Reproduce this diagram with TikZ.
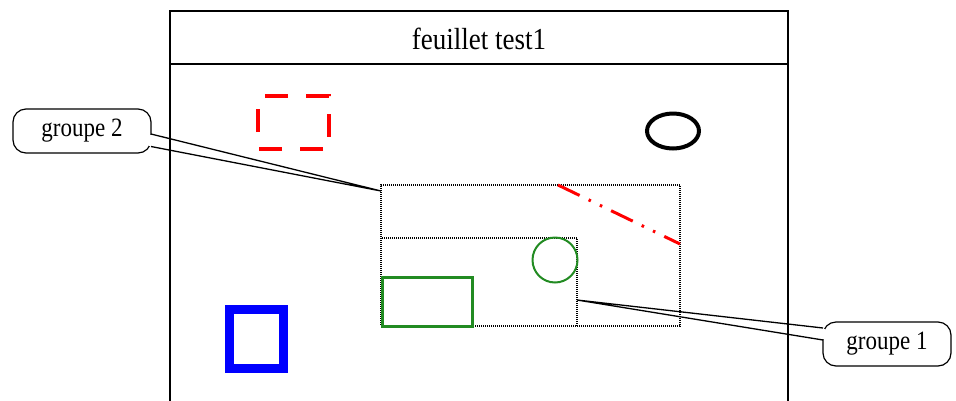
\documentclass[tikz,border=0pt]{standalone}
\usepackage{fontspec}
\setmainfont{Liberation Serif}
\definecolor{grn}{RGB}{34,139,34}
\definecolor{rd}{RGB}{255,0,0}
\definecolor{bl}{RGB}{0,0,255}
\begin{document}
\begin{tikzpicture}[x=1pt,y=-1pt,
  frame/.style={draw=black,line width=2.2pt},
  grpbox/.style={draw=black,line width=1.1pt,dash pattern=on 1pt off 1pt,inner sep=0pt,minimum width=#1},
  callbox/.style={draw=black,line width=1.2pt,rounded corners=13pt,fill=white,inner sep=0pt},
  wedge/.style={draw=black,line width=1.3pt},
  lbl/.style={font=\fontsize{23}{23}\selectfont}
]
\useasboundingbox (0,0) rectangle (956,400);
\clip (0,0) rectangle (956,400);
\fill[white] (0,0) rectangle (956,400);

% group boxes
\node[grpbox=299pt,minimum height=141pt] (grp2) at (530.5,255.5) {};
\node[grpbox=196pt,minimum height=88pt] (grp1) at (479,282) {};
\coordinate (tip2) at (381,191);
\coordinate (tip1) at (577,300);

% callout groupe 2
\node[callbox,minimum width=138pt,minimum height=44pt] (g2) at (82,131) {};
\node[lbl] (g2t) at (g2.center) {\scalebox{1}[1.15]{groupe 2}};
\coordinate (g2a) at (151,134);
\coordinate (g2b) at (151,146.5);
\fill[white] (149,135) rectangle (153,145.5);
\draw[wedge] (g2a) -- (tip2) -- (g2b);

% callout groupe 1
\node[callbox,minimum width=128pt,minimum height=44pt] (g1) at (887,344) {};
\node[lbl] (g1t) at (g1.center) {\scalebox{1}[1.15]{groupe 1}};
\coordinate (g1a) at (823,328);
\coordinate (g1b) at (823,340);
\fill[white] (821,329) rectangle (825,339);
\draw[wedge] (g1a) -- (tip1) -- (g1b);

% sheet frame
\draw[frame] (170,420) -- (170,11) -- (788,11) -- (788,420);
\draw[frame] (170,64) -- (788,64);
\node[font=\fontsize{27}{27}\selectfont] (title) at (479,39) {\scalebox{1}[1.13]{feuillet test1}};

% red dashed square
\draw[draw=rd,line width=4pt,dash pattern=on 23pt off 18pt,dash phase=34pt]
  (258,96) -- (329,96) -- (329,149) -- (258,149) -- cycle;

% black ellipse
\draw[black,line width=4pt] (673,131) ellipse [x radius=26, y radius=17.5];

% red dash-dot-dot line
\draw[rd,line width=3pt,dash pattern=on 24pt off 10pt on 2.5pt off 10pt on 2.5pt off 10pt]
  (558,185) -- (680,244);

% green circle
\draw[grn,line width=2pt] (555,260) circle [radius=22.5];

% green rectangle
\draw[grn,line width=3pt] (382,277) rectangle (472,326);

% blue rectangle
\draw[bl,line width=9pt] (229.5,309) rectangle (283.5,368.5);
\end{tikzpicture}
\end{document}
